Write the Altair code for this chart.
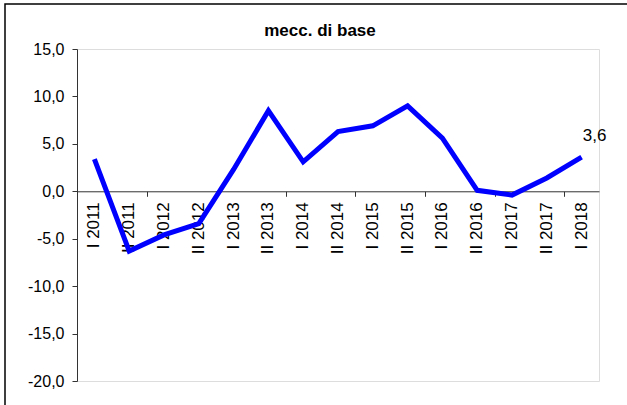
import altair as alt
import pandas as pd

# Half-year periods and the series values (percent changes)
periods = [
    "I 2011", "II 2011", "I 2012", "II 2012", "I 2013", "II 2013",
    "I 2014", "II 2014", "I 2015", "II 2015", "I 2016", "II 2016",
    "I 2017", "II 2017", "I 2018",
]
values = [3.4, -6.3, -4.6, -3.4, 2.3, 8.5, 3.1, 6.3, 6.9, 9.0, 5.6, 0.1, -0.4, 1.4, 3.6]
y_ticks = [-20, -15, -10, -5, 0, 5, 10, 15]
chart_title = "mecc. di base"

FONT = "Liberation Sans"
W, H = 522, 332
PAD = {"left": 77, "top": 49, "right": 28, "bottom": 24}
Y_MIN, Y_MAX = -20, 15

df = pd.DataFrame({"idx": list(range(len(periods))), "period": periods, "value": values})

x_scale = alt.Scale(domain=[0, len(periods)], nice=False, zero=False)
y_scale = alt.Scale(domain=[Y_MIN, Y_MAX], nice=False, zero=False)

# x axis sits on the zero line, with ticks on the period boundaries
zero_offset = -H * (0 - Y_MIN) / (Y_MAX - Y_MIN)
comma = "(datum.value < 0 ? '-' : '') + replace(format(abs(datum.value), '.1f'), '.', ',')"

base = alt.Chart(df).transform_calculate(xpos="datum.idx + 0.5", zero="0")

line = base.mark_line(color="#0000FF", strokeWidth=5, strokeJoin="miter").encode(
    x=alt.X(
        "xpos:Q",
        scale=x_scale,
        title=None,
        axis=alt.Axis(
            values=list(range(len(periods) + 1)),
            labels=False,
            tickSize=5,
            tickColor="#333333",
            domainColor="#333333",
            grid=False,
            offset=zero_offset,
        ),
    ),
    y=alt.Y(
        "value:Q",
        scale=y_scale,
        title=None,
        axis=alt.Axis(
            values=y_ticks,
            labelExpr=comma,
            labelFontSize=16,
            labelFont=FONT,
            labelColor="#000000",
            labelPadding=8,
            tickSize=5,
            tickColor="#333333",
            domainColor="#333333",
            grid=False,
        ),
    ),
)

# period names written upward just below the zero line, centred in each period
period_labels = base.mark_text(
    font=FONT, fontSize=17, color="#000000", angle=270, align="right", baseline="middle", dx=-11
).encode(
    x=alt.X("xpos:Q", scale=x_scale),
    y=alt.Y("zero:Q", scale=y_scale),
    text="period:N",
)

last_label = base.transform_filter(f"datum.idx == {len(periods) - 1}").transform_calculate(
    txt="replace(format(datum.value, '.1f'), '.', ',')"
).mark_text(font=FONT, fontSize=17, color="#000000", dx=13, dy=-21).encode(
    x=alt.X("xpos:Q", scale=x_scale),
    y=alt.Y("value:Q", scale=y_scale),
    text="txt:N",
)

# heading above the plot
heading = alt.Chart(df).transform_filter("datum.idx == 0").mark_text(
    font=FONT, fontSize=17, fontWeight="bold", color="#000000", align="center", baseline="alphabetic"
).encode(
    x=alt.value(W / 2 - 18),
    y=alt.value(-13),
    text=alt.value(chart_title),
)

# outer frame around the whole figure
frame = alt.Chart(df).transform_filter("datum.idx == 0").mark_rect(
    fill=None, stroke="#000000", strokeWidth=1.5, clip=False
).encode(
    x=alt.value(5 - PAD["left"]),
    x2=alt.value(W + PAD["right"] + 10),
    y=alt.value(4 - PAD["top"]),
    y2=alt.value(H + PAD["bottom"] + 10),
)

chart = (
    alt.layer(frame, period_labels, line, last_label, heading)
    .properties(
        width=W,
        height=H,
        padding=PAD,
        autosize=alt.AutoSizeParams(type="none"),
    )
    .configure_view(stroke=None)
    .configure(background="#ffffff")
)

chart.save("out.html", embed_options={"renderer": "svg", "actions": False})
